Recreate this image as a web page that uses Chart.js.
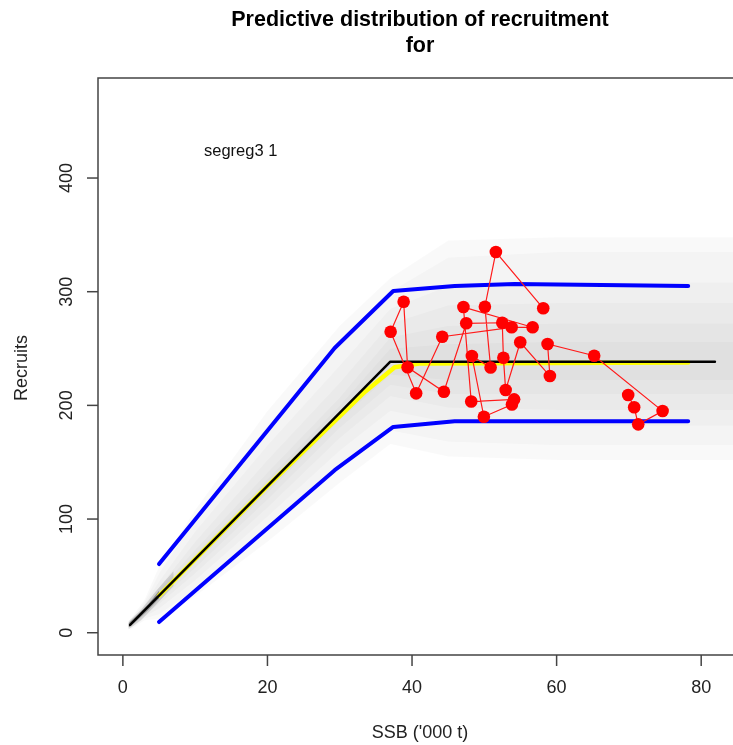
<!DOCTYPE html>
<html>
<head>
<meta charset="utf-8">
<script src="https://cdn.jsdelivr.net/npm/chart.js@4.4.0/dist/chart.umd.min.js"></script>
<style>
  html, body { margin: 0; padding: 0; background: #ffffff; }
  #wrap { width: 733px; height: 745px; }
</style>
</head>
<body>
<div id="wrap"><canvas id="c" width="733" height="745"></canvas></div>
<script>
// Axis ticks
const xTicks = [0, 20, 40, 60, 80];
const yTicks = [0, 100, 200, 300, 400];

// Observed stock-recruit pairs, in time order
const obsSSB = [69.90, 70.73, 71.29, 74.66, 65.20, 58.75, 59.07, 54.97, 52.95, 52.64,
                52.48, 47.50, 44.41, 39.39, 38.84, 37.04, 40.57, 44.18, 53.78, 56.68,
                47.11, 48.19, 54.12, 53.82, 49.94, 48.28, 50.87, 50.08, 51.60, 58.15];
const obsRec = [209.1, 198.3, 183.3, 195.0, 243.7, 254.0, 225.8, 255.5, 213.5, 241.9,
                272.7, 272.2, 212.0, 233.5, 291.2, 264.8, 210.6, 260.4, 268.7, 268.7,
                286.5, 203.4, 205.3, 200.8, 190.0, 243.4, 233.3, 286.8, 334.9, 285.4];

// Segmented regression fit (segreg3)
const fitSSB = [1.0, 37.0, 81.9];
const fitRec = [6.8, 238.4, 238.4];

// Median of the predictive distribution
const medSSB = [5, 20, 33.5, 37.6, 41, 78.2];
const medRec = [32.5, 129, 212, 233.5, 236.8, 237.8];

// 5% and 95% predictive quantiles
const qSSB = [5, 29.3, 37.4, 45.9, 54.2, 78.2];
const q95 = [60.4, 250.5, 300.6, 305, 306.7, 305];
const q05 = [9.4, 143, 181, 186, 186, 186];

// Nested envelopes of the simulated predictive cloud (outermost first)
const cloudSSB = [1, 3, 5, 10, 20, 30, 37, 45, 60, 86];
const env1Lo = [2.5, 11, 12, 32, 80, 132, 166, 155, 152, 152];
const env1Hi = [11.5, 29, 58, 108, 195, 270, 312, 345, 348, 348];
const env2Lo = [3.5, 12.5, 16, 38, 90, 145, 178, 168, 165, 165];
const env2Hi = [10.5, 27, 52, 100, 182, 255, 300, 330, 335, 335];
const env3Lo = [4.5, 14, 21, 46, 102, 160, 195, 185, 182, 182];
const env3Hi = [9.5, 25, 45, 89, 165, 235, 285, 305, 308, 308];
const env4Lo = [5, 15.5, 25, 52, 110, 171, 208, 198, 196, 196];
const env4Hi = [9, 23.5, 40, 80, 152, 220, 272, 288, 290, 290];
const env5Lo = [5.5, 17, 28, 57, 117, 180, 218, 210, 210, 210];
const env5Hi = [8.5, 22.5, 37.5, 73, 141, 207, 260, 270, 272, 272];
const env6Lo = [6, 18.5, 30.5, 61, 123, 187, 227, 222, 222, 222];
const env6Hi = [8, 21, 35, 69, 135, 200, 250, 254, 256, 256];
// Dense part of the cloud close to the origin
const originSSB = [0.8, 2.5, 4.5, 7];
const originLo  = [3, 11, 24, 41];
const originHi  = [10, 20, 36, 54];
const coreSSB = [0.8, 2, 3.5, 5];
const coreLo  = [4.5, 11, 20, 30];
const coreHi  = [8.5, 15.5, 25, 37];

const pts = (xs, ys) => xs.map((x, i) => ({ x: x, y: ys[i] }));

function line(xs, ys, color, width) {
  return {
    data: pts(xs, ys), showLine: true, borderColor: color, borderWidth: width,
    pointRadius: 0, fill: false, tension: 0,
    borderCapStyle: 'round', borderJoinStyle: 'round'
  };
}
// Closed band: along the lower envelope, then back along the upper one
function band(xs, lo, hi, color) {
  const data = pts(xs, lo).concat(pts(xs, hi).reverse());
  return {
    data: data, showLine: true, borderWidth: 0, borderColor: 'rgba(0,0,0,0)',
    pointRadius: 0, fill: 'shape', backgroundColor: color, tension: 0
  };
}

const haze = 'rgba(0,0,0,0.022)';
const datasets = [
  {
    data: pts(obsSSB, obsRec), showLine: true, borderColor: '#ff1a1a', borderWidth: 1.2,
    pointRadius: 6.3, pointBackgroundColor: '#ff0000', pointBorderWidth: 0, tension: 0
  },
  line(fitSSB, fitRec, '#000000', 2.5),
  line(medSSB, medRec, '#ffff00', 4.5),
  line(qSSB, q95, '#0000ff', 4),
  line(qSSB, q05, '#0000ff', 4),
  band(coreSSB, coreLo, coreHi, 'rgba(0,0,0,0.3)'),
  band(originSSB, originLo, originHi, 'rgba(0,0,0,0.12)'),
  band(cloudSSB, env6Lo, env6Hi, haze),
  band(cloudSSB, env5Lo, env5Hi, haze),
  band(cloudSSB, env4Lo, env4Hi, haze),
  band(cloudSSB, env3Lo, env3Hi, haze),
  band(cloudSSB, env2Lo, env2Hi, haze),
  band(cloudSSB, env1Lo, env1Hi, haze)
];

const FONT = '"Liberation Sans", Arial, Helvetica, sans-serif';

// R-style frame, ticks and labels
const frame = {
  id: 'frame',
  afterDraw(chart) {
    const ctx = chart.ctx;
    const a = chart.chartArea;
    const xs = chart.scales.x, ys = chart.scales.y;
    ctx.save();
    ctx.strokeStyle = '#444';
    ctx.lineWidth = 1.5;
    ctx.beginPath();
    ctx.moveTo(chart.width + 5, a.top);
    ctx.lineTo(a.left, a.top);
    ctx.lineTo(a.left, a.bottom);
    ctx.lineTo(chart.width + 5, a.bottom);
    ctx.stroke();

    ctx.fillStyle = '#222';
    ctx.font = '18px ' + FONT;
    ctx.textAlign = 'center';
    ctx.textBaseline = 'middle';
    xTicks.forEach(v => {
      const px = xs.getPixelForValue(v);
      ctx.beginPath();
      ctx.moveTo(px, a.bottom);
      ctx.lineTo(px, a.bottom + 11);
      ctx.stroke();
      ctx.fillText(String(v), px, a.bottom + 33);
    });
    yTicks.forEach(v => {
      const py = ys.getPixelForValue(v);
      ctx.beginPath();
      ctx.moveTo(a.left, py);
      ctx.lineTo(a.left - 11, py);
      ctx.stroke();
      ctx.save();
      ctx.translate(a.left - 31, py);
      ctx.rotate(-Math.PI / 2);
      ctx.fillText(String(v), 0, 0);
      ctx.restore();
    });

    // axis titles
    ctx.font = '18px ' + FONT;
    ctx.fillText("SSB ('000 t)", 420, 733);
    ctx.save();
    ctx.translate(22, 368);
    ctx.rotate(-Math.PI / 2);
    ctx.fillText('Recruits', 0, 0);
    ctx.restore();

    // model label
    ctx.font = '16.5px ' + FONT;
    ctx.fillStyle = '#111';
    ctx.fillText('segreg3 1', xs.getPixelForValue(16.3), ys.getPixelForValue(423));

    // main title
    ctx.fillStyle = '#000';
    ctx.font = 'bold 21.5px ' + FONT;
    ctx.fillText('Predictive distribution of recruitment', 420, 20);
    ctx.fillText('for', 420, 46);
    ctx.restore();
  }
};

new Chart(document.getElementById('c'), {
  type: 'scatter',
  data: { datasets: datasets },
  options: {
    responsive: false,
    animation: false,
    devicePixelRatio: 1,
    layout: { autoPadding: false, padding: { left: 98, top: 78, right: 0, bottom: 90 } },
    scales: {
      x: { type: 'linear', min: -3.44, max: 84.4, display: false },
      y: { type: 'linear', min: -19.6, max: 488, display: false }
    },
    plugins: {
      legend: { display: false },
      tooltip: { enabled: false },
      filler: { drawTime: 'beforeDatasetsDraw' }
    }
  },
  plugins: [frame]
});
</script>
</body>
</html>
